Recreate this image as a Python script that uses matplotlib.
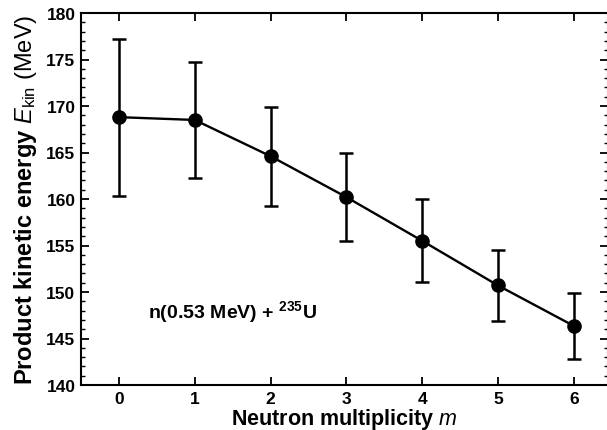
import matplotlib
matplotlib.use("Agg")
import matplotlib.pyplot as plt
from matplotlib.ticker import MultipleLocator

plt.rcParams['font.family'] = ['Liberation Sans', 'DejaVu Sans']
plt.rcParams['mathtext.fontset'] = 'custom'
plt.rcParams['mathtext.rm'] = 'Liberation Sans'
plt.rcParams['mathtext.it'] = 'Liberation Sans:italic'
plt.rcParams['mathtext.bf'] = 'Liberation Sans:bold'

multiplicity = [0, 1, 2, 3, 4, 5, 6]
ekin = [168.8, 168.5, 164.6, 160.2, 155.5, 150.7, 146.35]
ekin_err = [8.45, 6.2, 5.3, 4.7, 4.45, 3.85, 3.55]
x_ticks = [0, 1, 2, 3, 4, 5, 6]
y_ticks = [140, 145, 150, 155, 160, 165, 170, 175, 180]

fig = plt.figure(figsize=(6.07, 4.31), dpi=100)
ax = fig.add_axes([81/607, 1-386/431, (608-81)/607, (386-14)/431])

ax.errorbar(multiplicity, ekin, yerr=ekin_err, fmt='o-', color='black',
            lw=1.7, ms=9.5, elinewidth=1.8, capsize=5, capthick=1.8)

ax.set_xlim(-0.5, 6.45)
ax.set_ylim(140, 180)
ax.set_xticks(x_ticks)
ax.set_yticks(y_ticks)
ax.yaxis.set_minor_locator(MultipleLocator(1))
ax.tick_params(axis='both', which='major', direction='in', length=6, width=1.3,
               top=True, right=True, labelsize=12.5, pad=4)
ax.tick_params(axis='y', which='minor', direction='in', length=3, width=1.0, right=True)
for lab in ax.get_xticklabels() + ax.get_yticklabels():
    lab.set_fontweight('bold')
for s in ax.spines.values():
    s.set_linewidth(1.5)

ax.set_xlabel(r'$\mathbf{Neutron\ multiplicity}$ $\mathit{m}$', fontsize=15.5, labelpad=0)
ax.set_ylabel(r'$\mathbf{Product\ kinetic\ energy}$ $\mathit{E}_{\mathrm{kin}}$ (MeV)',
              fontsize=17, labelpad=5)

ax.text(0.38, 147.9, r'n(0.53 MeV) + $^{\mathbf{235}}$U', fontsize=14,
        fontweight='bold', ha='left', va='center')

fig.savefig('out.png', dpi=100)
